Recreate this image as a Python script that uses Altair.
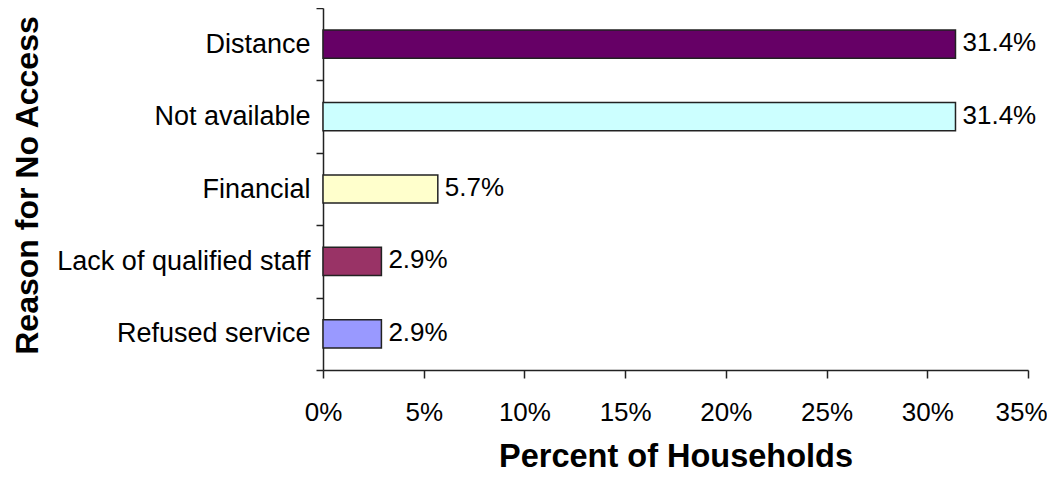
import altair as alt
import pandas as pd

reasons = ["Distance", "Not available", "Financial", "Lack of qualified staff", "Refused service"]
percents = [31.4, 31.4, 5.7, 2.9, 2.9]
colors = ["#660066", "#CCFFFF", "#FFFFCC", "#993366", "#9999FF"]
x_ticks = [0, 5, 10, 15, 20, 25, 30, 35]

df = pd.DataFrame({"reason": reasons, "pct": percents, "color": colors})
df["label"] = [f"{v:.1f}%" for v in percents]

FONT = "Liberation Sans"

y_enc = alt.Y(
    "reason:N",
    sort=reasons,
    scale=alt.Scale(paddingInner=0, paddingOuter=0),
    axis=alt.Axis(
        title="Reason for No Access",
        tickBand="extent",
        tickSize=7,
        tickWidth=1.5,
        tickColor="#222222",
        domainColor="#222222",
        domainWidth=1.5,
        labelPadding=6,
        labelFontSize=27,
        labelFont=FONT,
        labelColor="black",
        labelLimit=0,
        titleFont=FONT,
        titleFontSize=32,
        titleFontWeight="bold",
        titleColor="black",
        titleAngle=270,
        titleX=-286,
        titleY=177,
        titleAlign="center",
        titleBaseline="alphabetic",
    ),
)

x_enc = alt.X(
    "pct:Q",
    scale=alt.Scale(domain=[0, 35], nice=False, zero=True),
    axis=alt.Axis(
        title="Percent of Households",
        values=x_ticks,
        labelExpr="datum.value + '%'",
        grid=False,
        tickSize=8,
        tickWidth=1.5,
        tickColor="#222222",
        domainColor="#222222",
        domainWidth=1.5,
        labelPadding=21,
        labelFontSize=26,
        labelFont=FONT,
        labelColor="black",
        labelFlush=False,
        labelOverlap=False,
        labelOffset={"condition": {"test": "datum.value === 35", "value": -7}, "value": 0},
        titleFont=FONT,
        titleFontSize=32.5,
        titleFontWeight="bold",
        titleColor="black",
        titleY=96,
        titleBaseline="alphabetic",
    ),
)

bars = alt.Chart(df).mark_bar(
    stroke="#222222", strokeWidth=1.5, height=alt.RelativeBandSize(0.39)
).encode(
    x=x_enc,
    y=y_enc,
    color=alt.Color("color:N", scale=None, legend=None),
)

labels = alt.Chart(df).mark_text(
    align="left", baseline="middle", dx=7, dy=-1, fontSize=26, font=FONT, color="black"
).encode(
    x=alt.X("pct:Q"),
    y=alt.Y("reason:N", sort=reasons),
    text="label:N",
)

chart = (
    alt.layer(bars, labels)
    .properties(
        width=705,
        height=362,
        padding={"left": 315, "top": 0, "right": 19, "bottom": 103},
        autosize="none",
        background="white",
    )
    .configure_view(stroke=None)
)

chart.save("out.html", embed_options={"renderer": "svg", "actions": False})
